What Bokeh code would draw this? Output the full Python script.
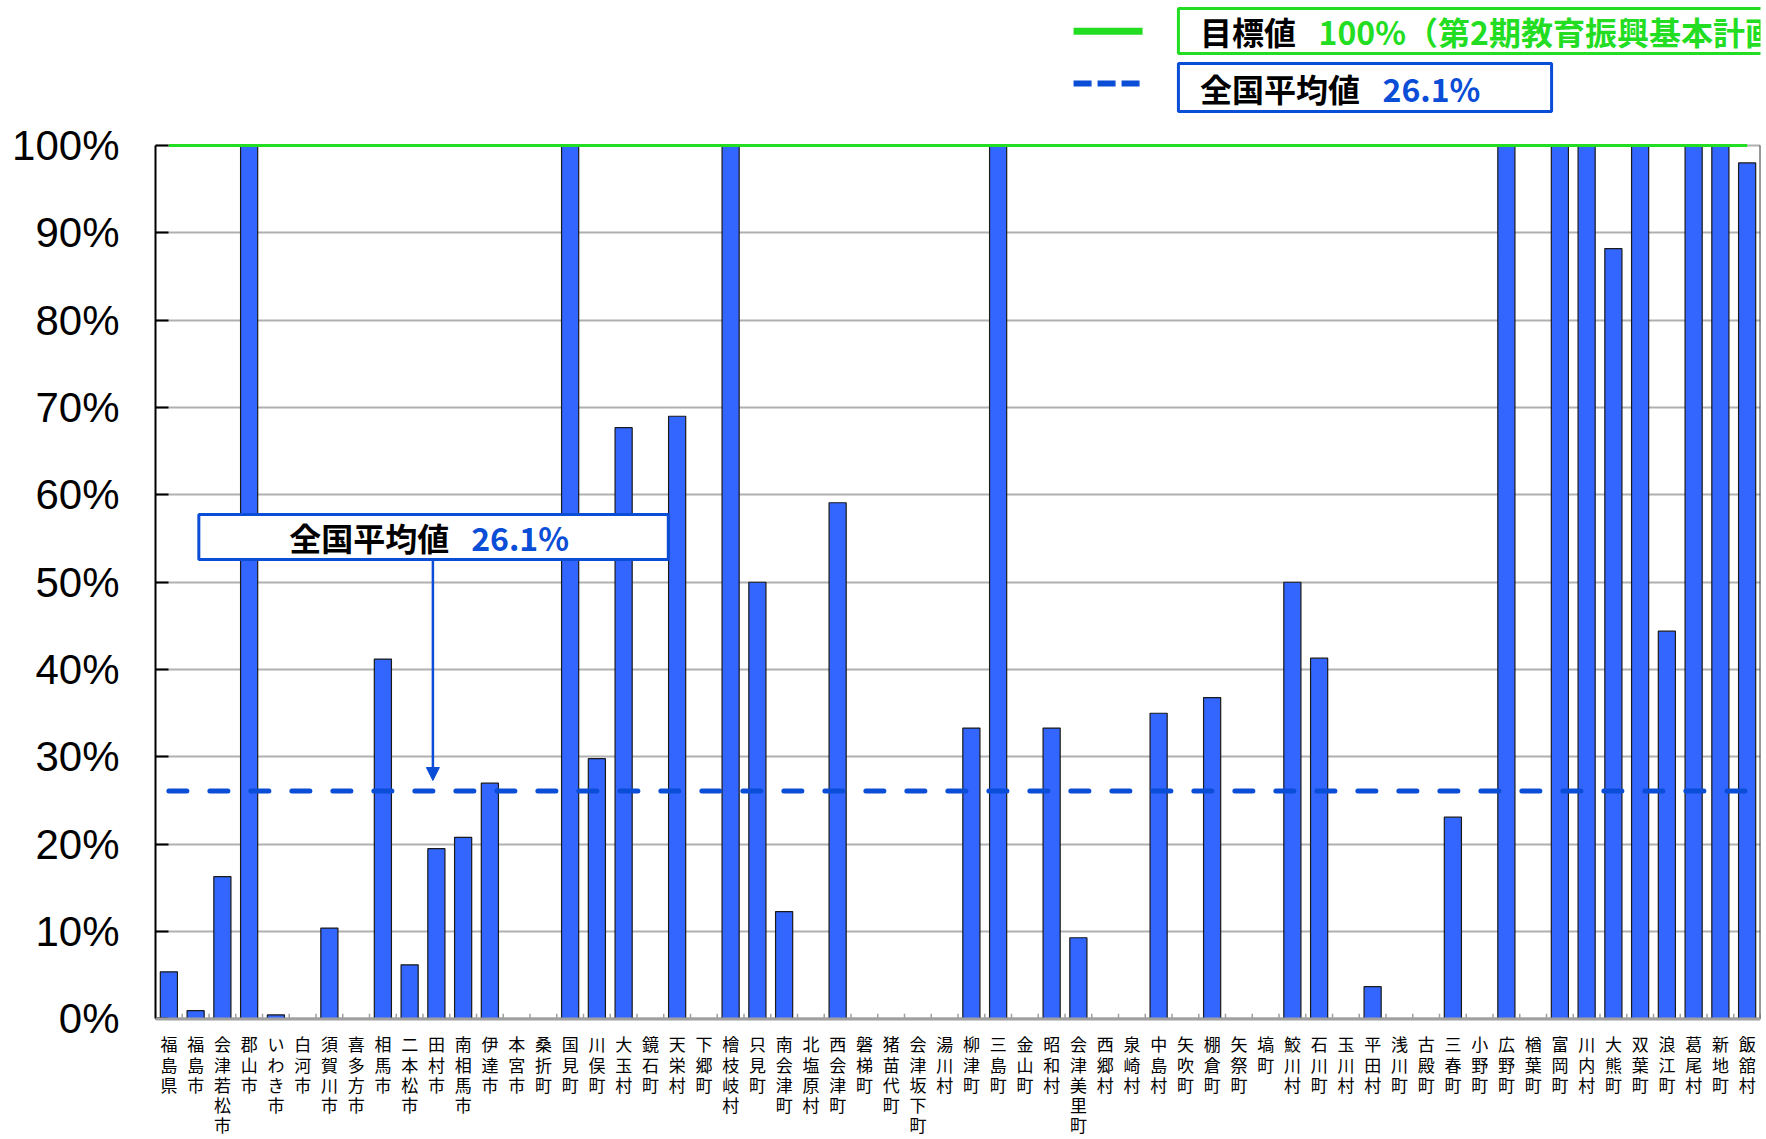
from bokeh.plotting import figure
from bokeh.models import (FactorRange, Range1d, FixedTicker, PrintfTickFormatter,
                          Arrow, NormalHead, Span)
from bokeh.core.properties import value
from bokeh.embed import file_html
from bokeh.resources import INLINE

# ---- data ----
municipalities = [
    "福島県", "福島市", "会津若松市", "郡山市", "いわき市", "白河市", "須賀川市", "喜多方市",
    "相馬市", "二本松市", "田村市", "南相馬市", "伊達市", "本宮市", "桑折町", "国見町",
    "川俣町", "大玉村", "鏡石町", "天栄村", "下郷町", "檜枝岐村", "只見町", "南会津町",
    "北塩原村", "西会津町", "磐梯町", "猪苗代町", "会津坂下町", "湯川村", "柳津町", "三島町",
    "金山町", "昭和村", "会津美里町", "西郷村", "泉崎村", "中島村", "矢吹町", "棚倉町",
    "矢祭町", "塙町", "鮫川村", "石川町", "玉川村", "平田村", "浅川町", "古殿町",
    "三春町", "小野町", "広野町", "楢葉町", "富岡町", "川内村", "大熊町", "双葉町",
    "浪江町", "葛尾村", "新地町", "飯舘村",
]
rate_pct = [
    5.4, 0.95, 16.3, 100, 0.46, 0, 10.4, 0,
    41.2, 6.2, 19.5, 20.8, 27.0, 0, 0, 100,
    29.8, 67.7, 0, 69.0, 0, 100, 50.0, 12.3,
    0, 59.1, 0, 0, 0, 0, 33.3, 100,
    0, 33.3, 9.3, 0, 0, 35.0, 0, 36.8,
    0, 0, 50.0, 41.3, 0, 3.7, 0, 0,
    23.1, 0, 100, 0, 100, 100, 88.2, 100,
    44.4, 100, 100, 98.0,
]
target_pct = 100
national_avg_pct = 26.1
y_ticks = list(range(0, 101, 10))

# ---- styles ----
BAR = "#3366FF"
GREEN = "#22DD22"
BLUE = "#0A4DD6"
CJK = "Noto Sans CJK JP"
LABEL_TOP = -1.43      # first label row (data units below 0)
LABEL_PITCH = 2.31     # row pitch of the stacked characters

p = figure(
    x_range=FactorRange(factors=municipalities, range_padding=0),
    y_range=Range1d(-13.8, 116.6),
    width=1766, height=1139,
    output_backend="svg", toolbar_location=None,
    min_border_left=155, min_border_right=6, min_border_top=0, min_border_bottom=0,
)
p.outline_line_color = None
p.background_fill_color = "white"
p.xgrid.grid_line_color = None
p.xaxis.visible = False

# y grid / axis
p.ygrid.ticker = FixedTicker(ticks=y_ticks)
p.ygrid.grid_line_color = "#B0B0B0"
p.ygrid.grid_line_width = 2
yax = p.yaxis[0]
yax.ticker = FixedTicker(ticks=y_ticks)
yax.bounds = (0, 100)
yax.formatter = PrintfTickFormatter(format="%d%%")
yax.axis_line_color = "black"
yax.axis_line_width = 2
yax.major_tick_in = 13
yax.major_tick_out = 0
yax.major_tick_line_color = "black"
yax.major_tick_line_width = 2
yax.minor_tick_line_color = None
yax.major_label_text_font = "Liberation Sans"
yax.major_label_text_font_size = "42px"
yax.major_label_text_color = "black"
yax.major_label_standoff = 36

# category axis line at 0 and boundary ticks
p.add_layout(Span(location=0, dimension="width", line_color="#A0A0A0", line_width=3))
bounds_x = list(range(len(municipalities) + 1))
p.segment(x0=bounds_x, y0=[0] * len(bounds_x), x1=bounds_x, y1=[0.6] * len(bounds_x),
          line_color="#A0A0A0", line_width=1.5)

# stacked (vertical) category labels, one character per row
lab_x, lab_y, lab_t = [], [], []
for m in municipalities:
    for k, ch in enumerate(m):
        lab_x.append(m)
        lab_y.append(LABEL_TOP - k * LABEL_PITCH)
        lab_t.append(ch)
p.text(x=lab_x, y=lab_y, text=lab_t, text_font=value(CJK), text_font_size="17px",
       text_color="black", text_align="center", text_baseline="top")

# bars
p.vbar(x=municipalities, top=rate_pct, width=0.64, fill_color=BAR,
       line_color="#1A1A1A", line_width=1.2)

# right border of plot area
p.segment(x0=[len(municipalities)], y0=[0], x1=[len(municipalities)], y1=[target_pct],
          line_color="#333333", line_width=2)

# target line and national average line
p.line(x=municipalities, y=[target_pct] * len(municipalities), line_color=GREEN, line_width=3)
p.line(x=municipalities, y=[national_avg_pct] * len(municipalities), line_color=BLUE,
       line_width=5, line_dash="18 23", line_cap="round")

# in-chart callout
p.quad(left=[1.62], right=[19.17], bottom=[52.6], top=[57.76], fill_color="white",
       line_color=BLUE, line_width=3)
p.text(x=[5.0], y=[55.2], text=["全国平均値"], text_font=value(CJK), text_font_style="bold",
       text_font_size="32px", text_color="black", text_align="left", text_baseline="middle")
p.text(x=[11.8], y=[55.2], text=[f"{national_avg_pct}%"], text_font=value(CJK),
       text_font_style="bold", text_font_size="32px", text_color=BLUE, text_align="left",
       text_baseline="middle")
p.add_layout(Arrow(x_start=10.37, y_start=52.6, x_end=10.37, y_end=27.3,
                   line_color=BLUE, line_width=2.5,
                   end=NormalHead(size=13, fill_color=BLUE, line_color=BLUE)))

# legend (top right)
p.line(x=[34.32, 36.9], y=[113.09, 113.09], line_color=GREEN, line_width=7)
p.quad(left=[38.24], right=[62], bottom=[110.52], top=[115.67], fill_color="white",
       line_color=GREEN, line_width=3)
p.text(x=[39.05], y=[113.1], text=["目標値"], text_font=value(CJK), text_font_style="bold",
       text_font_size="32px", text_color="black", text_align="left", text_baseline="middle")
p.text(x=[43.48], y=[113.1], text=[f"{target_pct}%（第2期教育振興基本計画）"],
       text_font=value(CJK), text_font_style="bold", text_font_size="32px",
       text_color=GREEN, text_align="left", text_baseline="middle")

p.line(x=[34.32, 36.9], y=[107.1, 107.1], line_color=BLUE, line_width=6, line_dash="18 6")
p.quad(left=[38.24], right=[52.19], bottom=[103.89], top=[109.39], fill_color="white",
       line_color=BLUE, line_width=3)
p.text(x=[39.05], y=[106.6], text=["全国平均値"], text_font=value(CJK), text_font_style="bold",
       text_font_size="32px", text_color="black", text_align="left", text_baseline="middle")
p.text(x=[45.87], y=[106.6], text=[f"{national_avg_pct}%"], text_font=value(CJK),
       text_font_style="bold", text_font_size="32px", text_color=BLUE, text_align="left",
       text_baseline="middle")

open("out.html", "w").write(file_html(p, INLINE))
